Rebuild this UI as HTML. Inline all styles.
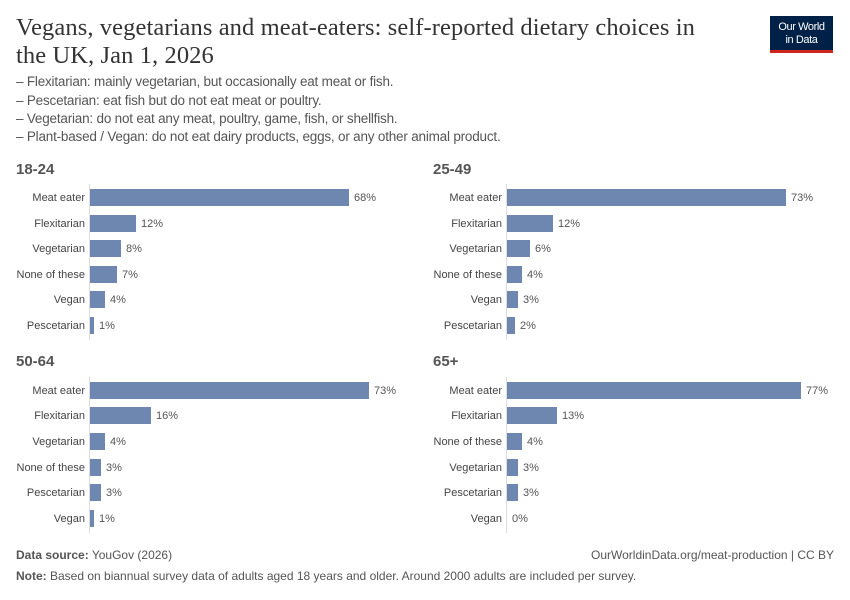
<!DOCTYPE html>
<html><head><meta charset="utf-8"><style>
body{margin:0;width:850px;height:600px;background:#fff;position:relative;overflow:hidden;font-family:"Liberation Sans",sans-serif;}
.a{position:absolute;white-space:nowrap;}
.t{font-family:"Liberation Serif",serif;font-size:24.5px;color:#333;left:16px;line-height:28px;letter-spacing:0.1px}
.s{font-size:13.5px;color:#555;left:16px;letter-spacing:-0.2px}
.h{font-size:15px;color:#555;font-weight:bold;}
.l{font-size:11px;color:#444;text-align:right;width:90px;}
.b{background:#6d87b0;height:17px;}
.v{font-size:11px;color:#555;}
.ax{background:#ddd;width:1px;}
</style></head><body>
<div class="a t" style="top:14px">Vegans, vegetarians and meat-eaters: self-reported dietary choices in<br>the UK, Jan 1, 2026</div>
<div class="a" style="left:770px;top:16px;width:63px;height:37px;background:#002147;border-bottom:3px solid #ce261e;color:#fff;font-size:11px;text-align:center;line-height:13px;padding-top:5px;box-sizing:border-box;letter-spacing:-0.4px">Our World<br>in Data</div>
<div class="a s" style="top:74px">– Flexitarian: mainly vegetarian, but occasionally eat meat or fish.</div>
<div class="a s" style="top:93px">– Pescetarian: eat fish but do not eat meat or poultry.</div>
<div class="a s" style="top:111px">– Vegetarian: do not eat any meat, poultry, game, fish, or shellfish.</div>
<div class="a s" style="top:129px">– Plant-based / Vegan: do not eat dairy products, eggs, or any other animal product.</div>

<div class="a h" style="left:16px;top:161px">18-24</div>
<div class="a h" style="left:433px;top:161px">25-49</div>
<div class="a h" style="left:16px;top:353px">50-64</div>
<div class="a h" style="left:433px;top:353px">65+</div>

<div class="a ax" style="left:89px;top:184px;height:156px"></div>
<div class="a ax" style="left:506px;top:184px;height:156px"></div>
<div class="a ax" style="left:89px;top:377px;height:156px"></div>
<div class="a ax" style="left:506px;top:377px;height:156px"></div>

<!-- 18-24 -->
<div class="a l" style="left:-5px;top:192px">Meat eater</div><div class="a b" style="left:90px;top:189px;width:259px"></div><div class="a v" style="left:354px;top:192px">68%</div>
<div class="a l" style="left:-5px;top:218px">Flexitarian</div><div class="a b" style="left:90px;top:215px;width:46px"></div><div class="a v" style="left:141px;top:218px">12%</div>
<div class="a l" style="left:-5px;top:243px">Vegetarian</div><div class="a b" style="left:90px;top:240px;width:31px"></div><div class="a v" style="left:126px;top:243px">8%</div>
<div class="a l" style="left:-5px;top:269px">None of these</div><div class="a b" style="left:90px;top:266px;width:27px"></div><div class="a v" style="left:122px;top:269px">7%</div>
<div class="a l" style="left:-5px;top:294px">Vegan</div><div class="a b" style="left:90px;top:291px;width:15px"></div><div class="a v" style="left:110px;top:294px">4%</div>
<div class="a l" style="left:-5px;top:320px">Pescetarian</div><div class="a b" style="left:90px;top:317px;width:4px"></div><div class="a v" style="left:99px;top:320px">1%</div>

<!-- 25-49 -->
<div class="a l" style="left:412px;top:192px">Meat eater</div><div class="a b" style="left:507px;top:189px;width:279px"></div><div class="a v" style="left:791px;top:192px">73%</div>
<div class="a l" style="left:412px;top:218px">Flexitarian</div><div class="a b" style="left:507px;top:215px;width:46px"></div><div class="a v" style="left:558px;top:218px">12%</div>
<div class="a l" style="left:412px;top:243px">Vegetarian</div><div class="a b" style="left:507px;top:240px;width:23px"></div><div class="a v" style="left:535px;top:243px">6%</div>
<div class="a l" style="left:412px;top:269px">None of these</div><div class="a b" style="left:507px;top:266px;width:15px"></div><div class="a v" style="left:527px;top:269px">4%</div>
<div class="a l" style="left:412px;top:294px">Vegan</div><div class="a b" style="left:507px;top:291px;width:11px"></div><div class="a v" style="left:523px;top:294px">3%</div>
<div class="a l" style="left:412px;top:320px">Pescetarian</div><div class="a b" style="left:507px;top:317px;width:8px"></div><div class="a v" style="left:520px;top:320px">2%</div>

<!-- 50-64 -->
<div class="a l" style="left:-5px;top:385px">Meat eater</div><div class="a b" style="left:90px;top:382px;width:279px"></div><div class="a v" style="left:374px;top:385px">73%</div>
<div class="a l" style="left:-5px;top:410px">Flexitarian</div><div class="a b" style="left:90px;top:407px;width:61px"></div><div class="a v" style="left:156px;top:410px">16%</div>
<div class="a l" style="left:-5px;top:436px">Vegetarian</div><div class="a b" style="left:90px;top:433px;width:15px"></div><div class="a v" style="left:110px;top:436px">4%</div>
<div class="a l" style="left:-5px;top:462px">None of these</div><div class="a b" style="left:90px;top:459px;width:11px"></div><div class="a v" style="left:106px;top:462px">3%</div>
<div class="a l" style="left:-5px;top:487px">Pescetarian</div><div class="a b" style="left:90px;top:484px;width:11px"></div><div class="a v" style="left:106px;top:487px">3%</div>
<div class="a l" style="left:-5px;top:513px">Vegan</div><div class="a b" style="left:90px;top:510px;width:4px"></div><div class="a v" style="left:99px;top:513px">1%</div>

<!-- 65+ -->
<div class="a l" style="left:412px;top:385px">Meat eater</div><div class="a b" style="left:507px;top:382px;width:294px"></div><div class="a v" style="left:806px;top:385px">77%</div>
<div class="a l" style="left:412px;top:410px">Flexitarian</div><div class="a b" style="left:507px;top:407px;width:50px"></div><div class="a v" style="left:562px;top:410px">13%</div>
<div class="a l" style="left:412px;top:436px">None of these</div><div class="a b" style="left:507px;top:433px;width:15px"></div><div class="a v" style="left:527px;top:436px">4%</div>
<div class="a l" style="left:412px;top:462px">Vegetarian</div><div class="a b" style="left:507px;top:459px;width:11px"></div><div class="a v" style="left:523px;top:462px">3%</div>
<div class="a l" style="left:412px;top:487px">Pescetarian</div><div class="a b" style="left:507px;top:484px;width:11px"></div><div class="a v" style="left:523px;top:487px">3%</div>
<div class="a l" style="left:412px;top:513px">Vegan</div><div class="a v" style="left:512px;top:513px">0%</div>

<div class="a" style="left:16px;top:548px;font-size:12px;color:#555"><b>Data source:</b> YouGov (2026)</div>
<div class="a" style="right:16px;top:548px;font-size:12px;color:#555">OurWorldinData.org/meat-production | CC BY</div>
<div class="a" style="left:16px;top:569px;font-size:12px;color:#555"><b>Note:</b> Based on biannual survey data of adults aged 18 years and older. Around 2000 adults are included per survey.</div>
</body></html>
